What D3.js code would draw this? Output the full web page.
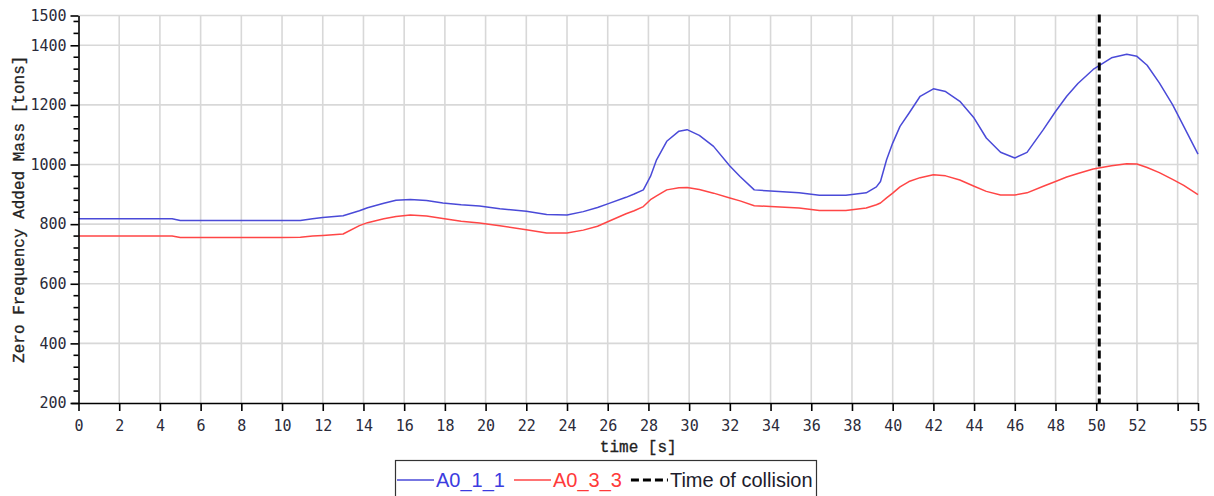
<!DOCTYPE html>
<html>
<head>
<meta charset="utf-8">
<script src="https://cdn.jsdelivr.net/npm/d3@7"></script>
<style>
  html, body { margin: 0; padding: 0; background: #fff; }
  svg { display: block; }
</style>
</head>
<body>
<svg id="chart" width="1214" height="496"></svg>
<script>
// Time samples [s]
const time = [0, 4.6, 5.0, 10.0, 10.9, 11.5, 12.0, 13.0, 13.8, 14.2, 15.0, 15.6, 16.3, 17.1, 17.9, 18.8,
  19.7, 20.7, 22.0, 23.0, 24.0, 24.8, 25.5, 26.0, 26.9, 27.3, 27.75, 28.1, 28.4, 28.9, 29.5, 29.9,
  30.5, 31.2, 32.0, 32.5, 33.2, 34.0, 35.4, 36.4, 37.7, 38.7, 39.2, 39.4, 39.7, 40.0, 40.36, 40.8,
  41.35, 42.0, 42.6, 43.3, 44.0, 44.6, 45.3, 46.0, 46.6, 47.4, 48.0, 48.55, 49.1, 49.85, 50.75, 51.5,
  52.0, 52.5, 53.1, 53.75, 54.3, 55.0];

// Zero frequency added mass [tons], mode A0_1_1
const a011 = [818, 818, 812, 812, 812, 818, 822, 828, 845, 855, 870, 880, 883, 879, 871, 865,
  861, 852, 843, 832, 831, 842, 856, 868, 890, 901, 915, 960, 1016, 1078, 1112, 1117,
  1098, 1061, 995, 960, 915, 911, 905, 897, 897, 905, 925, 943, 1016, 1072, 1128, 1172,
  1229, 1254, 1245, 1212, 1156, 1089, 1041, 1022, 1041, 1117, 1178, 1229, 1272, 1319, 1358, 1370,
  1363, 1333, 1274, 1201, 1128, 1035];

// Zero frequency added mass [tons], mode A0_3_3
const a033 = [760, 760, 755, 755, 756, 760, 762, 767, 795, 805, 818, 826, 831, 827, 819, 810,
  804, 795, 781, 770, 770, 780, 793, 808, 835, 845, 859, 882, 895, 915, 922, 923,
  916, 904, 888, 878, 862, 859, 854, 846, 846, 854, 865, 871, 888, 904, 925, 943,
  956, 966, 962, 948, 927, 910, 898, 898, 905, 927, 943, 958, 970, 985, 996, 1003,
  1002, 990, 973, 950, 930, 899];

const collisionTime = 50.15;

const xTicks = [0, 2, 4, 6, 8, 10, 12, 14, 16, 18, 20, 22, 24, 26, 28, 30, 32, 34, 36, 38, 40,
  42, 44, 46, 48, 50, 52, 54, 55];
const xTickLabels = ["0", "2", "4", "6", "8", "10", "12", "14", "16", "18", "20", "22", "24", "26",
  "28", "30", "32", "34", "36", "38", "40", "42", "44", "46", "48", "50", "52", "", "55"];
const yTicks = [200, 400, 600, 800, 1000, 1200, 1400, 1500];
const yTickLabels = ["200", "400", "600", "800", "1000", "1200", "1400", "1500"];
const yMinorTicks = [240, 280, 320, 360, 440, 480, 520, 560, 640, 680, 720, 760, 840, 880, 920, 960,
  1040, 1080, 1120, 1160, 1240, 1280, 1320, 1360, 1440, 1480];

const seriesNames = ["A0_1_1", "A0_3_3"];
const seriesColors = ["#4a4ad8", "#ff4646"];
const seriesTextColors = ["#3c3ce0", "#ff3a3a"];

const svg = d3.select("#chart");
const plotLeft = 78.5, plotRight = 1198, plotTop = 15.5, plotBottom = 403;

const x = d3.scaleLinear().domain([0, 55]).range([plotLeft, plotRight]);
const y = d3.scaleLinear().domain([200, 1500]).range([plotBottom, plotTop]);

const tickFont = "'DejaVu Sans Mono', monospace";
const titleFont = "'Liberation Mono', 'Courier New', monospace";

// grid
const grid = svg.append("g").attr("stroke", "#d8d8d8").attr("stroke-width", 1.6);
grid.selectAll("line.gx").data(xTicks.filter(d => d > 0)).join("line")
  .attr("x1", d => x(d)).attr("x2", d => x(d))
  .attr("y1", y(1500)).attr("y2", y(200));
grid.selectAll("line.gy").data(yTicks.filter(d => d > 200)).join("line")
  .attr("x1", x(0)).attr("x2", x(55))
  .attr("y1", d => y(d)).attr("y2", d => y(d));

// series
const line = d3.line().x((d, i) => x(time[i])).y(d => y(d));
[a011, a033].forEach((vals, k) => {
  svg.append("path").datum(vals)
    .attr("fill", "none")
    .attr("stroke", seriesColors[k])
    .attr("stroke-width", 1.5)
    .attr("stroke-linejoin", "round")
    .attr("d", line);
});

// collision marker
svg.append("line")
  .attr("x1", x(collisionTime)).attr("x2", x(collisionTime))
  .attr("y1", y(1500) - 1).attr("y2", y(200))
  .attr("stroke", "#000").attr("stroke-width", 3)
  .attr("stroke-dasharray", "8,4");

// x axis
const xAxis = d3.axisBottom(x).tickValues(xTicks)
  .tickFormat((d, i) => xTickLabels[i]).tickSize(8).tickPadding(9).tickSizeOuter(0);
const gx = svg.append("g").attr("transform", `translate(0,${plotBottom})`).call(xAxis);
gx.select(".domain").attr("d", `M${plotLeft - 7},0.5H${plotRight}`).attr("stroke", "#000").attr("stroke-width", 1.6);
gx.selectAll(".tick line").attr("stroke", "#000").attr("stroke-width", 1.6);
gx.selectAll(".tick text").attr("font-family", tickFont).attr("font-size", 15).attr("fill", "#2b2b3a");

// y axis
const yAxis = d3.axisLeft(y).tickValues(yTicks)
  .tickFormat((d, i) => yTickLabels[i]).tickSize(8).tickPadding(4).tickSizeOuter(0);
const gy = svg.append("g").attr("transform", `translate(${plotLeft},0)`).call(yAxis);
gy.select(".domain").attr("stroke", "#000").attr("stroke-width", 1.6);
gy.selectAll(".tick line").attr("stroke", "#000").attr("stroke-width", 1.6);
gy.selectAll(".tick text").attr("font-family", tickFont).attr("font-size", 15).attr("fill", "#2b2b3a");
gy.selectAll("line.minor").data(yMinorTicks).join("line")
  .attr("class", "minor")
  .attr("x1", -5).attr("x2", 0)
  .attr("y1", d => y(d)).attr("y2", d => y(d))
  .attr("stroke", "#000").attr("stroke-width", 1.6);

// axis titles
svg.append("text")
  .attr("x", (plotLeft + plotRight) / 2).attr("y", 452)
  .attr("text-anchor", "middle")
  .attr("font-family", titleFont).attr("font-size", 16)
  .attr("fill", "#222").attr("stroke", "#222").attr("stroke-width", 0.3)
  .text("time [s]");
svg.append("text")
  .attr("transform", `translate(24,${(plotTop + plotBottom) / 2}) rotate(-90)`)
  .attr("text-anchor", "middle")
  .attr("font-family", titleFont).attr("font-size", 16)
  .attr("fill", "#222").attr("stroke", "#222").attr("stroke-width", 0.3)
  .text("Zero Frequency Added Mass [tons]");

// legend
const legend = svg.append("g");
legend.append("rect")
  .attr("x", 395.5).attr("y", 460.5).attr("width", 421).attr("height", 40)
  .attr("fill", "#fff").attr("stroke", "#333").attr("stroke-width", 1.2);
const legendItems = [
  { name: seriesNames[0], color: seriesColors[0], textColor: seriesTextColors[0], dash: null, width: 1.5 },
  { name: seriesNames[1], color: seriesColors[1], textColor: seriesTextColors[1], dash: null, width: 1.5 },
  { name: "Time of collision", color: "#000", textColor: "#1c1c2c", dash: "8,4", width: 3 }
];
let lx = 397;
const ly = 480;
legendItems.forEach((it) => {
  legend.append("line")
    .attr("x1", lx).attr("x2", lx + 37).attr("y1", ly).attr("y2", ly)
    .attr("stroke", it.color).attr("stroke-width", it.width)
    .attr("stroke-dasharray", it.dash);
  const t = legend.append("text")
    .attr("x", lx + 39).attr("y", ly + 7)
    .attr("font-family", "'Liberation Sans', Arial, sans-serif").attr("font-size", 20)
    .attr("fill", it.textColor)
    .text(it.name);
  lx += 39 + t.node().getComputedTextLength() + 9;
});
</script>
</body>
</html>
